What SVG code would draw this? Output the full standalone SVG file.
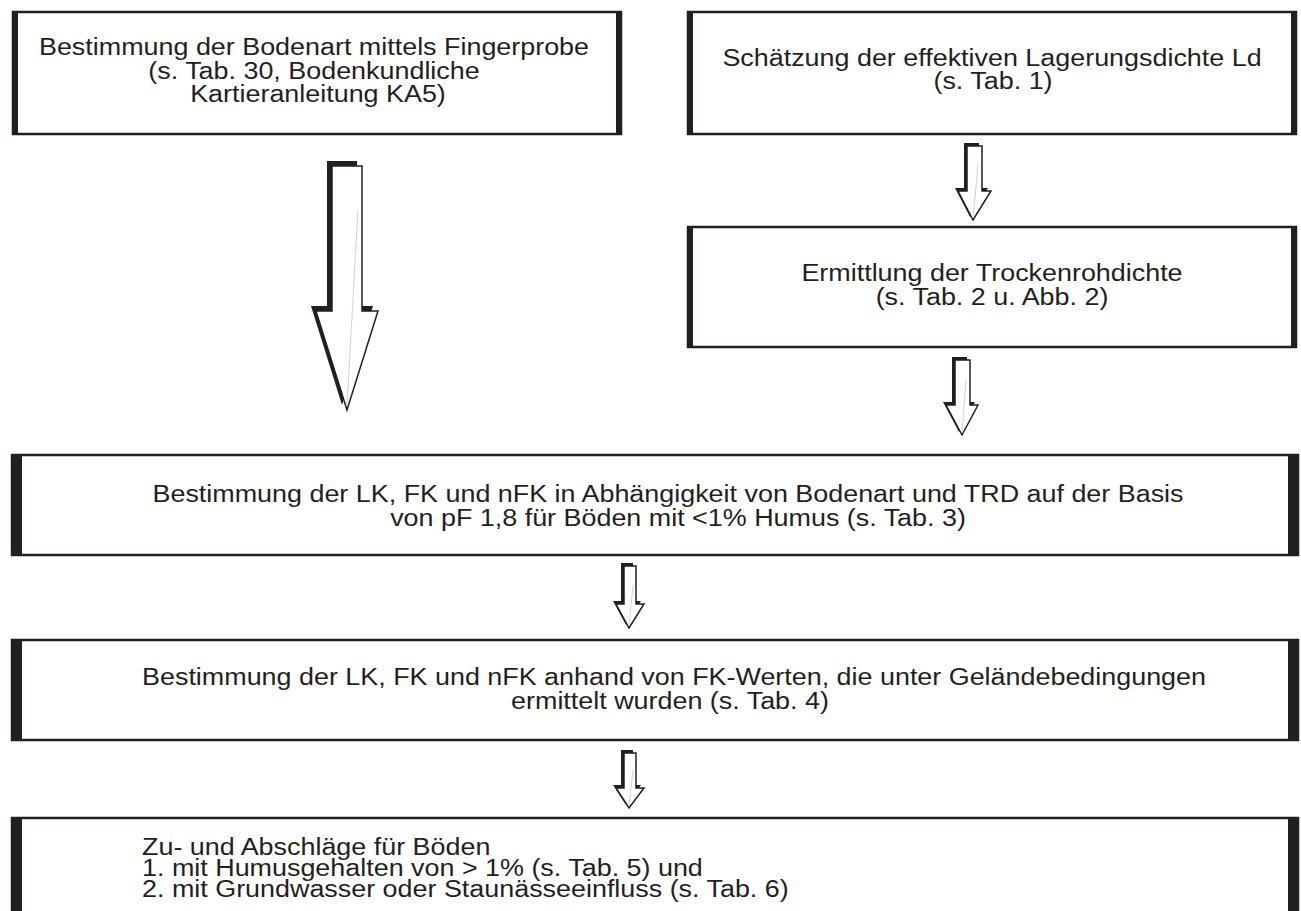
<svg xmlns="http://www.w3.org/2000/svg" width="1301" height="911" viewBox="0 0 1301 911">
<style>
.box{fill:#fff;stroke:#231f20;stroke-width:2.5}
.bar{fill:#231f20}
.t{font-family:"Liberation Sans",Arial,sans-serif;font-size:23px;fill:#231f20}
.c{text-anchor:middle}
.sh{fill:#231f20}
.ar{fill:#fff;stroke:#231f20;stroke-width:1.5;stroke-linejoin:miter}
.hl{stroke:#c8c8c8;stroke-width:0.8;fill:none}
</style>
<rect width="1301" height="911" fill="#fff"/>

<g id="connectors">
  <g id="arrow1">
    <path class="sh" transform="translate(-5,-5)" d="M332,166 H362 V311 H378 L347,410 L316,311 H332 Z"/>
    <path class="ar" d="M332,166 H362 V311 H378 L347,410 L316,311 H332 Z"/>
    <line class="hl" x1="358" y1="210" x2="347" y2="406"/>
  </g>
  <g id="arrow2">
    <path class="sh" transform="translate(-3,-3)" d="M967,146 H982 V191 H991 L973,220 L958,191 H967 Z"/>
    <path class="ar" d="M967,146 H982 V191 H991 L973,220 L958,191 H967 Z"/>
    <line class="hl" x1="978" y1="165" x2="973" y2="218"/>
  </g>
  <g id="arrow3">
    <path class="sh" transform="translate(-3,-3)" d="M955,360 H970 V405 H978 L962,435 L946,405 H955 Z"/>
    <path class="ar" d="M955,360 H970 V405 H978 L962,435 L946,405 H955 Z"/>
    <line class="hl" x1="966" y1="380" x2="962" y2="433"/>
  </g>
  <g id="arrow4">
    <path class="sh" transform="translate(-3,-3)" d="M624,566 H636 V604 H644 L629,628 L616,604 H624 Z"/>
    <path class="ar" d="M624,566 H636 V604 H644 L629,628 L616,604 H624 Z"/>
    <line class="hl" x1="633" y1="585" x2="629" y2="626"/>
  </g>
  <g id="arrow5">
    <path class="sh" transform="translate(-3,-3)" d="M624,753 H636 V788 H644 L629,808 L616,788 H624 Z"/>
    <path class="ar" d="M624,753 H636 V788 H644 L629,808 L616,788 H624 Z"/>
    <line class="hl" x1="633" y1="770" x2="629" y2="806"/>
  </g>
</g>

<g id="node1">
  <rect class="box" x="13" y="12" width="608" height="122"/>
  <rect class="bar" x="12" y="11" width="6" height="124"/>
  <rect class="bar" x="616" y="11" width="6" height="124"/>
  <text class="t c" transform="translate(314,55) scale(1.17,1)">Bestimmung der Bodenart mittels Fingerprobe</text>
  <text class="t c" transform="translate(314,79) scale(1.17,1)">(s. Tab. 30, Bodenkundliche</text>
  <text class="t c" transform="translate(318,102) scale(1.17,1)">Kartieranleitung KA5)</text>
</g>

<g id="node2">
  <rect class="box" x="688" y="12" width="608" height="122"/>
  <rect class="bar" x="687" y="11" width="6" height="124"/>
  <rect class="bar" x="1291" y="11" width="6" height="124"/>
  <text class="t c" transform="translate(992,66) scale(1.17,1)">Schätzung der effektiven Lagerungsdichte Ld</text>
  <text class="t c" transform="translate(993,89) scale(1.17,1)">(s. Tab. 1)</text>
</g>

<g id="node3">
  <rect class="box" x="688" y="227" width="608" height="120"/>
  <rect class="bar" x="687" y="226" width="6" height="122"/>
  <rect class="bar" x="1291" y="226" width="6" height="122"/>
  <text class="t c" transform="translate(992,281) scale(1.17,1)">Ermittlung der Trockenrohdichte</text>
  <text class="t c" transform="translate(992,305) scale(1.17,1)">(s. Tab. 2 u. Abb. 2)</text>
</g>

<g id="node4">
  <rect class="box" x="12" y="455" width="1286" height="100"/>
  <rect class="bar" x="11" y="454" width="11" height="102"/>
  <rect class="bar" x="1288" y="454" width="11" height="102"/>
  <text class="t c" transform="translate(668,502) scale(1.17,1)">Bestimmung der LK, FK und nFK in Abhängigkeit von Bodenart und TRD auf der Basis</text>
  <text class="t c" transform="translate(678,526) scale(1.17,1)">von pF 1,8 für Böden mit &lt;1% Humus (s. Tab. 3)</text>
</g>

<g id="node5">
  <rect class="box" x="12" y="640" width="1286" height="100"/>
  <rect class="bar" x="11" y="639" width="11" height="102"/>
  <rect class="bar" x="1288" y="639" width="11" height="102"/>
  <text class="t c" transform="translate(674,685) scale(1.17,1)">Bestimmung der LK, FK und nFK anhand von FK-Werten, die unter Geländebedingungen</text>
  <text class="t c" transform="translate(670,709) scale(1.17,1)">ermittelt wurden (s. Tab. 4)</text>
</g>

<g id="node6">
  <rect class="box" x="12" y="818" width="1286" height="110"/>
  <rect class="bar" x="11" y="817" width="11" height="110"/>
  <rect class="bar" x="1288" y="817" width="11" height="110"/>
  <text class="t" transform="translate(142,855) scale(1.17,1)">Zu- und Abschläge für Böden</text>
  <text class="t" transform="translate(142,876) scale(1.17,1)">1. mit Humusgehalten von &gt; 1% (s. Tab. 5) und</text>
  <text class="t" transform="translate(142,897) scale(1.17,1)">2. mit Grundwasser oder Staunässeeinfluss (s. Tab. 6)</text>
</g>
</svg>
